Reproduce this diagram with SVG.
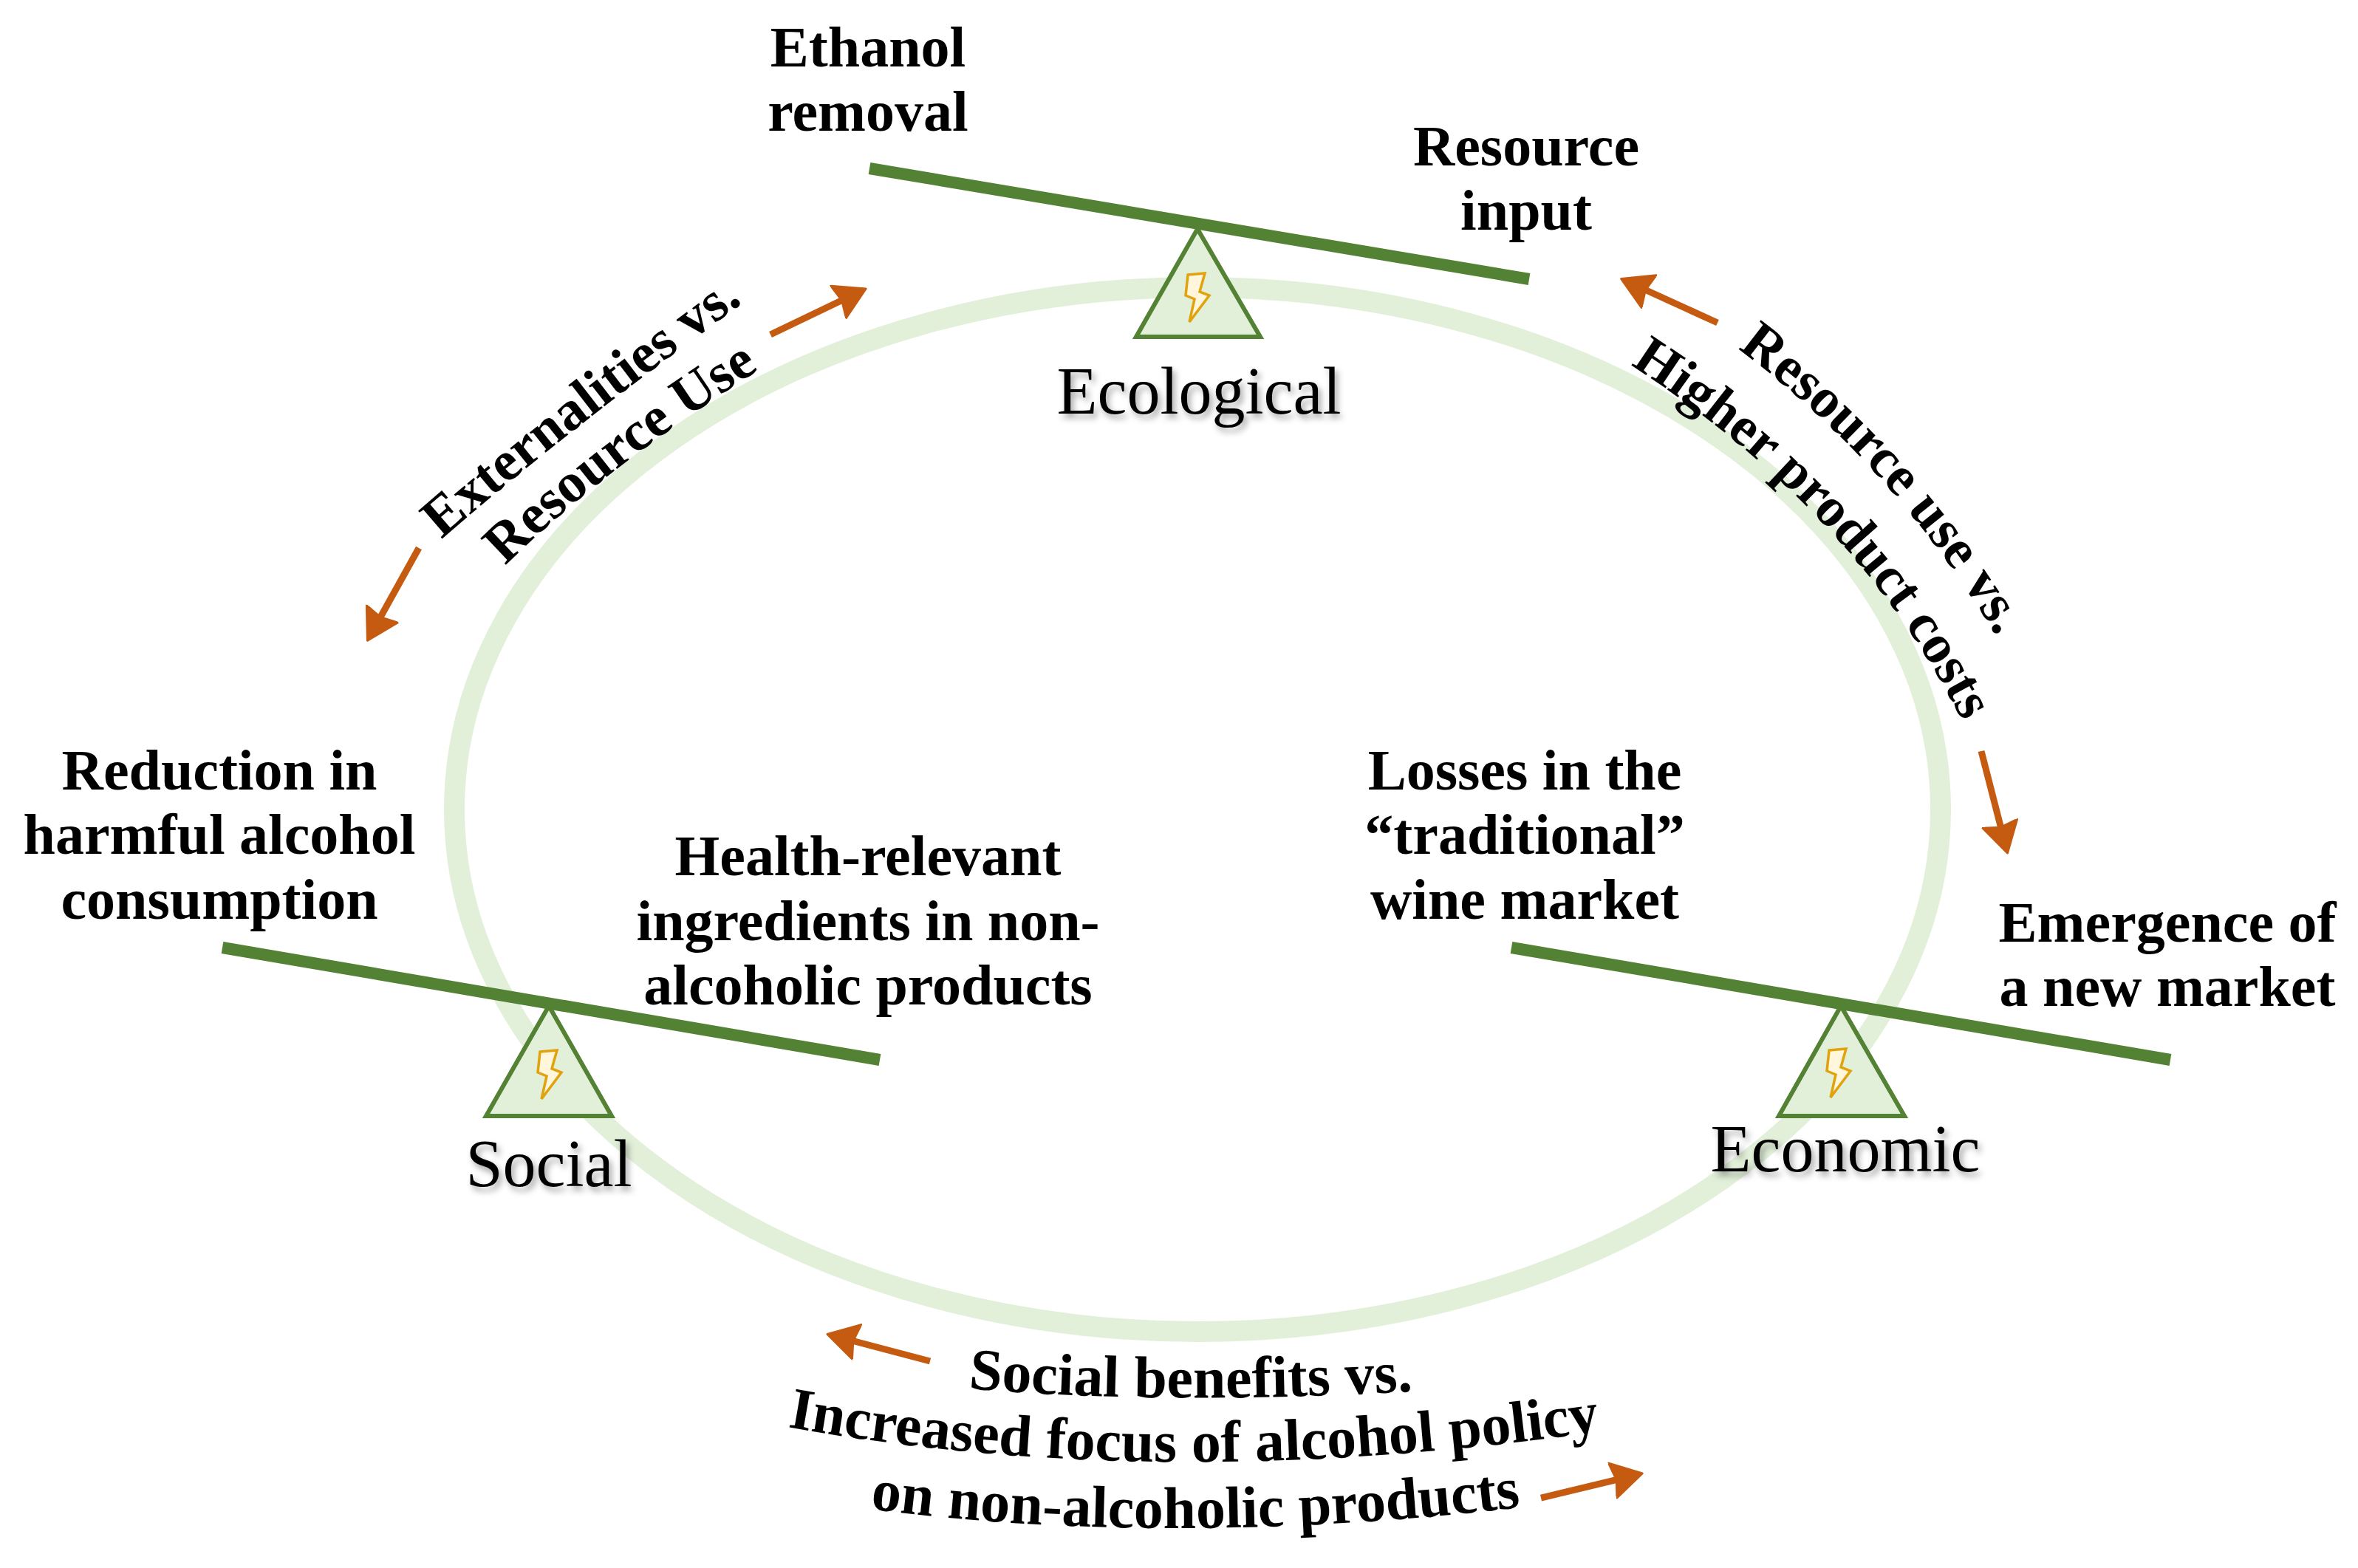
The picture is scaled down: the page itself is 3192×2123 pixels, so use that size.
<svg xmlns="http://www.w3.org/2000/svg" width="3192" height="2123" viewBox="0 0 3192 2123">
<style>
text{font-family:"Liberation Serif","Times New Roman",serif;fill:#000}
.b{font-weight:700;font-size:78px;text-anchor:middle}
.c{font-weight:700;font-size:76px}
.d{font-weight:700;font-size:80px}
.h{font-size:90px;text-anchor:middle;filter:url(#sh)}
.beam{stroke:#548235;stroke-width:16;fill:none}
.tri{fill:#E2F0D9;stroke:#548235;stroke-width:6}
.arr{stroke:#C55A11;stroke-width:9;fill:none;marker-end:url(#head)}
</style>
<defs>
<marker id="head" markerUnits="userSpaceOnUse" markerWidth="60" markerHeight="60" refX="12" refY="26" orient="auto"><path d="M1 2L42 26L1 50L6 26Z" fill="#C55A11" stroke="#C55A11" stroke-width="3" stroke-linejoin="round"/></marker>
<filter id="sh" x="-10%" y="-20%" width="120%" height="150%"><feDropShadow dx="4" dy="6" stdDeviation="4" flood-color="#000" flood-opacity="0.35"/></filter>
<path id="bolt" d="M1608 372L1631 370L1624 395L1637 400L1610 436L1617 405L1605 400Z" fill="#FFF6DC" stroke="#E0A30E" stroke-width="3.5" stroke-linejoin="miter"/>
<path id="p1" d="M598 730Q773 577 1050 378"/>
<path id="p2" d="M684 766Q836 616 1090 462"/>
<path id="p3" d="M2352 472Q2594 650 2750 945"/>
<path id="p4" d="M2207 494Q2552 717 2690 1050"/>
<path id="p5" d="M1311 1880Q1611 1906 2000 1878"/>
<path id="p6" d="M1066 1932Q1610 2030 2250 1925"/>
<path id="p7" d="M1178 2043Q1612 2100 2130 2032"/>
</defs>
<rect width="3192" height="2123" fill="#fff"/>
<ellipse id="cycle" cx="1621" cy="1096" rx="1006" ry="707" fill="none" stroke="#E2F0D9" stroke-width="28"/>
<g id="connectors">
<path class="arr" d="M1043 453L1145 404"/>
<path class="arr" d="M567 742L512 841"/>
<path class="arr" d="M2325 437L2222 390"/>
<path class="arr" d="M2682 1017L2710 1126"/>
<path class="arr" d="M1259 1843L1149 1814"/>
<path class="arr" d="M2086 2028L2194 2002"/>
</g>
<g id="ecological">
<path class="tri" d="M1621 310L1706 456H1538Z"/>
<use href="#bolt"/>
<path class="beam" d="M1177 228L2070 378"/>
<text class="h" x="1623" y="560">Ecological</text>
<text class="b" x="1175" y="90">Ethanol</text>
<text class="b" x="1175" y="177">removal</text>
<text class="b" x="2066" y="224">Resource</text>
<text class="b" x="2066" y="311">input</text>
</g>
<g id="social">
<path class="tri" d="M743 1362L828 1511H658Z"/>
<use href="#bolt" transform="translate(-877 1052)"/>
<path class="beam" d="M301 1283L1191 1435"/>
<text class="h" x="743" y="1606">Social</text>
<text class="b" x="297" y="1069">Reduction in</text>
<text class="b" x="297" y="1156">harmful alcohol</text>
<text class="b" x="297" y="1244">consumption</text>
<text class="b" x="1175" y="1185">Health-relevant</text>
<text class="b" x="1175" y="1273">ingredients in non-</text>
<text class="b" x="1175" y="1360">alcoholic products</text>
</g>
<g id="economic">
<path class="tri" d="M2492 1362L2578 1511H2408Z"/>
<use href="#bolt" transform="translate(868 1050)"/>
<path class="beam" d="M2046 1283L2938 1435"/>
<text class="h" x="2498" y="1586">Economic</text>
<text class="b" x="2064" y="1069">Losses in the</text>
<text class="b" x="2064" y="1156">“traditional”</text>
<text class="b" x="2064" y="1244">wine market</text>
<text class="b" x="2934" y="1275">Emergence of</text>
<text class="b" x="2934" y="1362">a new market</text>
</g>
<g id="tradeoffs">
<text class="c"><textPath href="#p1">Externalities vs.</textPath></text>
<text class="c"><textPath href="#p2">Resource Use</textPath></text>
<text class="c"><textPath href="#p3">Resource use vs.</textPath></text>
<text class="c" style="font-size:75px"><textPath href="#p4">Higher product costs</textPath></text>
<text class="d"><textPath href="#p5">Social benefits vs.</textPath></text>
<text class="d"><textPath href="#p6">Increased focus of alcohol policy</textPath></text>
<text class="d"><textPath href="#p7">on non-alcoholic products</textPath></text>
</g>
</svg>
